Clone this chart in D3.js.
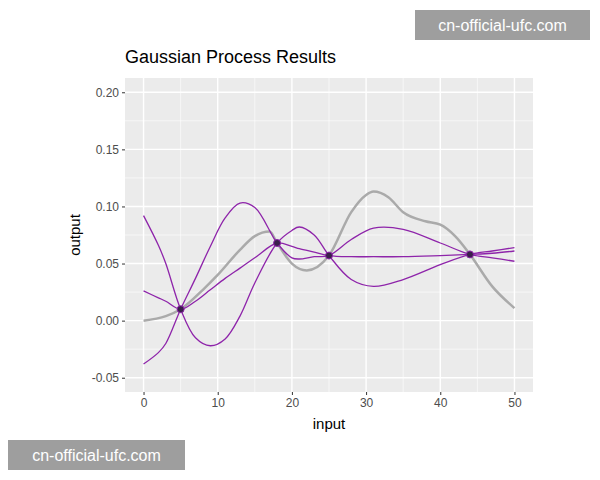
<!DOCTYPE html>
<html><head><meta charset="utf-8">
<script src="https://cdn.jsdelivr.net/npm/d3@7"></script>
<style>body{margin:0;background:#fff}</style>
</head><body>
<svg width="600" height="480"></svg>
<script>
var xTicks = [0, 10, 20, 30, 40, 50],
    yTicks = [-0.05, 0, 0.05, 0.10, 0.15, 0.20],
    yLabels = ["-0.05", "0.00", "0.05", "0.10", "0.15", "0.20"];

var truthX = [0, 3, 5, 8, 10, 13, 15, 17, 18, 20, 22, 25, 28, 30, 31, 33, 35, 38, 40, 42, 44, 47, 50],
    truthY = [0.0, 0.004, 0.01, 0.027, 0.04, 0.062, 0.074, 0.078, 0.068, 0.05, 0.044, 0.057, 0.095, 0.110, 0.113, 0.108, 0.095, 0.087, 0.084, 0.074, 0.058, 0.03, 0.011];

var sampleX = [0, 2, 3, 5, 7, 9, 11, 13, 15, 18, 20, 21, 23, 25, 28, 31, 35, 40, 44, 47, 50];
var sample1 = [0.092, 0.066, 0.05, 0.01, -0.015, -0.022, -0.016, 0.004, 0.033, 0.068, 0.079, 0.082, 0.075, 0.057, 0.036, 0.03, 0.036, 0.049, 0.058, 0.061, 0.064],
    sample2 = [-0.038, -0.028, -0.02, 0.01, 0.037, 0.065, 0.09, 0.103, 0.099, 0.068, 0.055, 0.054, 0.056, 0.057, 0.071, 0.081, 0.08, 0.068, 0.058, 0.055, 0.052],
    sample3 = [0.026, 0.02, 0.017, 0.01, 0.017, 0.027, 0.037, 0.046, 0.055, 0.068, 0.065, 0.063, 0.06, 0.057, 0.056, 0.056, 0.056, 0.057, 0.058, 0.059, 0.061];

var obsX = [5, 18, 25, 44],
    obsY = [0.01, 0.068, 0.057, 0.058];

var svg = d3.select("svg");
var pLeft = 125, pRight = 533, pTop = 78, pBottom = 392;

var x = d3.scaleLinear().domain([-2.5, 52.5]).range([pLeft, pRight]),
    y = d3.scaleLinear().domain([-0.0625, 0.2125]).range([pBottom, pTop]);

svg.append("rect").attr("x", pLeft).attr("y", pTop)
    .attr("width", pRight - pLeft).attr("height", pBottom - pTop).attr("fill", "#EBEBEB");

var g = svg.append("g");
d3.range(-5, 56, 5).forEach(function(v) {
  if (x(v) < pLeft || x(v) > pRight) return;
  g.append("line").attr("x1", x(v)).attr("x2", x(v)).attr("y1", pTop).attr("y2", pBottom)
    .attr("stroke", "#fff").attr("stroke-width", v % 10 === 0 ? 1.4 : 0.6);
});
d3.range(-0.075, 0.226, 0.025).forEach(function(v, i) {
  var yy = y(v);
  if (yy < pTop || yy > pBottom) return;
  g.append("line").attr("x1", pLeft).attr("x2", pRight).attr("y1", yy).attr("y2", yy)
    .attr("stroke", "#fff").attr("stroke-width", i % 2 === 1 ? 1.4 : 0.6);
});

var xa = svg.append("g").attr("transform", "translate(0," + pBottom + ")")
    .call(d3.axisBottom(x).tickValues(xTicks).tickSize(3).tickPadding(3));
var ya = svg.append("g").attr("transform", "translate(" + pLeft + ",0)")
    .call(d3.axisLeft(y).tickValues(yTicks).tickFormat(function(d, i) { return yLabels[i]; }).tickSize(3).tickPadding(3));
[xa, ya].forEach(function(a) {
  a.select(".domain").remove();
  a.selectAll("line").attr("stroke", "#333");
  a.selectAll("text").attr("fill", "#4D4D4D").style("font-size", "12px").style("font-family", "Liberation Sans, Arial, sans-serif");
});

var line = d3.line().curve(d3.curveMonotoneX)
    .x(function(d) { return x(d[0]); }).y(function(d) { return y(d[1]); });

svg.append("path").datum(d3.zip(truthX, truthY)).attr("d", line)
    .attr("fill", "none").attr("stroke", "#AAAAAA").attr("stroke-width", 2.5);

[sample1, sample2, sample3].forEach(function(s) {
  svg.append("path").datum(d3.zip(sampleX, s)).attr("d", d3.line().curve(d3.curveCatmullRom)
      .x(function(d) { return x(d[0]); }).y(function(d) { return y(d[1]); }))
    .attr("fill", "none").attr("stroke", "#8E24AA").attr("stroke-width", 1.3);
});

svg.selectAll("circle.obs").data(d3.zip(obsX, obsY)).enter().append("circle")
    .attr("cx", function(d) { return x(d[0]); }).attr("cy", function(d) { return y(d[1]); })
    .attr("r", 3.5).attr("fill", "#3A1F4A").attr("stroke", "#8E24AA").attr("stroke-width", 1);

var font = "Liberation Sans, Arial, sans-serif";
svg.append("text").attr("x", 125).attr("y", 63).text("Gaussian Process Results")
    .style("font-family", font).style("font-size", "18px").attr("fill", "#000");
svg.append("text").attr("x", (pLeft + pRight) / 2).attr("y", 429).attr("text-anchor", "middle")
    .text("input").style("font-family", font).style("font-size", "15px");
svg.append("text").attr("transform", "translate(80," + ((pTop + pBottom) / 2) + ") rotate(-90)")
    .attr("text-anchor", "middle").text("output").style("font-family", font).style("font-size", "15px");

[[415, 10, 175, 30], [8, 440, 177, 30]].forEach(function(b) {
  svg.append("rect").attr("x", b[0]).attr("y", b[1]).attr("width", b[2]).attr("height", b[3]).attr("fill", "#9E9E9E");
  svg.append("text").attr("x", b[0] + b[2] / 2).attr("y", b[1] + 21).attr("text-anchor", "middle")
    .attr("fill", "#fff").style("font-family", font).style("font-size", "16px").text("cn-official-ufc.com");
});
</script>
</body></html>
